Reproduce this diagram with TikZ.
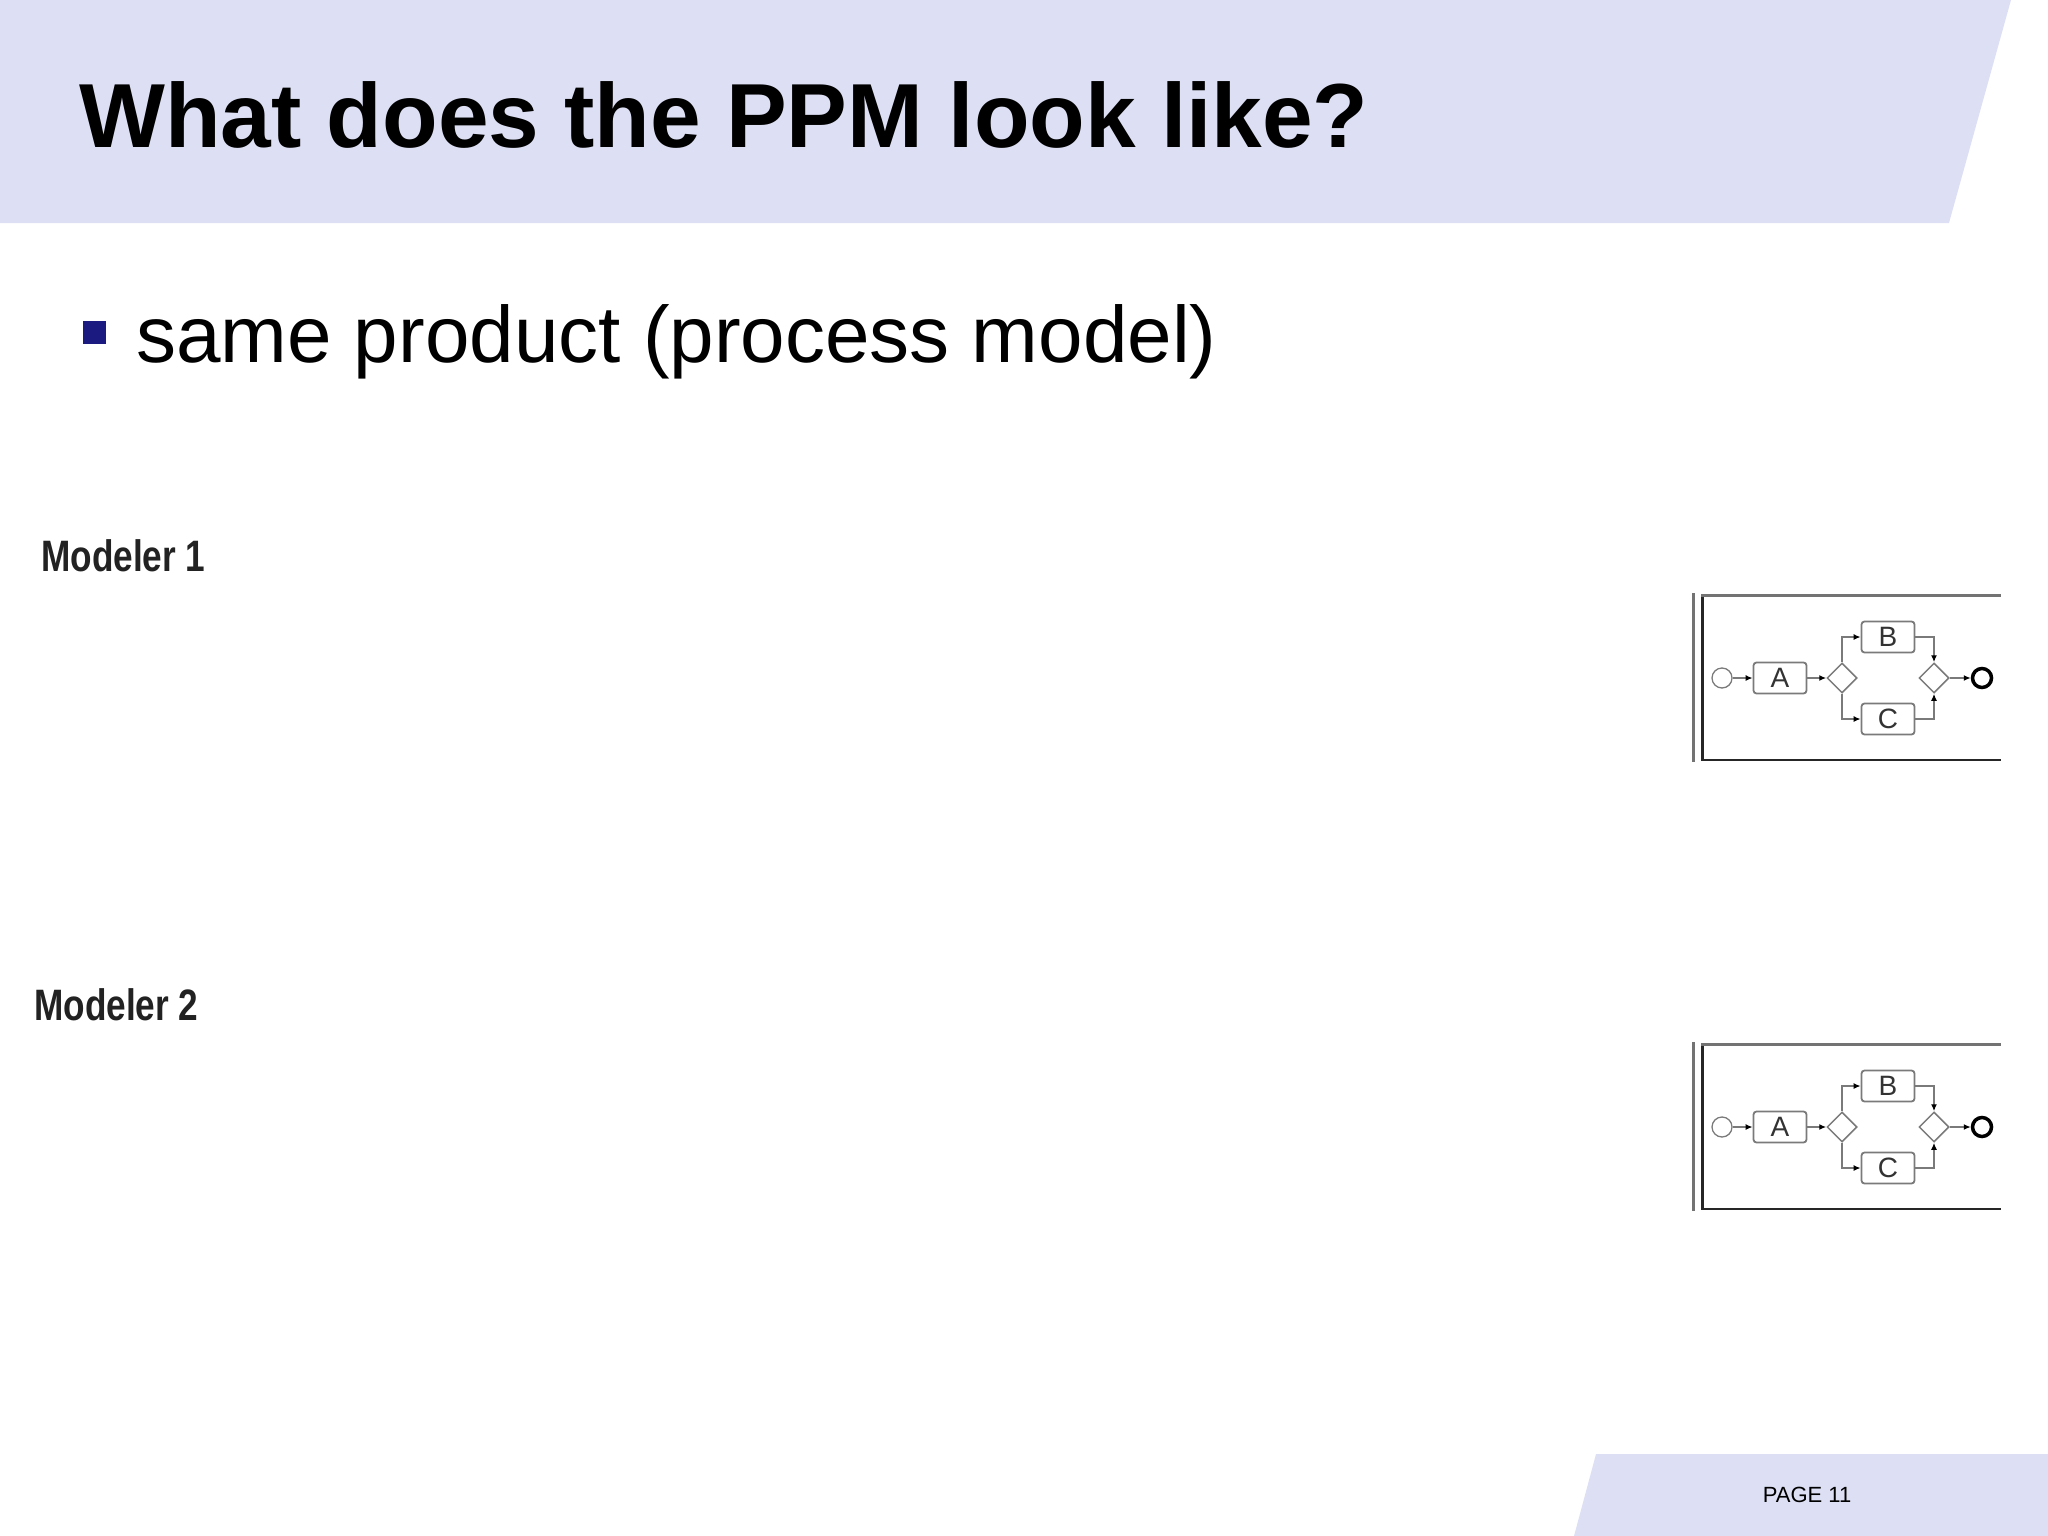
\documentclass[tikz,border=0pt]{standalone}
\usepackage{fontspec}
\usepackage{graphicx}
\setmainfont{Liberation Sans}
\usetikzlibrary{arrows.meta,shapes.geometric}
\definecolor{band}{HTML}{DDE0F4}
\definecolor{bulletc}{HTML}{1A1A80}
\definecolor{flowc}{HTML}{7A7A7A}
\definecolor{labc}{HTML}{222222}
\begin{document}
\begin{tikzpicture}[x=1pt,y=-1pt,
  task/.style={draw=flowc,line width=1.8pt,rounded corners=3pt,minimum width=53pt,minimum height=31pt,inner sep=0pt,font=\fontsize{28}{28}\selectfont,text=black!80},
  gate/.style={draw=flowc,line width=1.5pt,diamond,minimum width=30pt,minimum height=30pt,inner sep=0pt},
  startev/.style={draw=flowc,line width=1.3pt,circle,minimum size=20pt,inner sep=0pt},
  endev/.style={draw=black,line width=3.5pt,circle,minimum size=19pt,inner sep=0pt},
  flow/.style={draw=flowc,line width=1.5pt,-{Latex[length=7pt,width=6pt,black]}},
  modlabel/.style={anchor=base west,inner sep=0pt,text=labc,font=\bfseries\fontsize{44}{44}\selectfont},
  frameout/.style={draw=black!55,line width=3pt},
  framein/.style={draw=black!85,line width=3pt}]
\useasboundingbox (0,0) rectangle (2048,1536);
% header band
\fill[band] (0,0) -- (2011,0) -- (1949,223) -- (0,223) -- cycle;
\node[anchor=base west,inner sep=0pt,font=\bfseries\fontsize{91}{100}\selectfont] (title) at (79,148) {What does the PPM look like?};
% bullet
\fill[bulletc] (83,321) rectangle (106,344);
\node[anchor=base west,inner sep=0pt,font=\fontsize{80}{90}\selectfont] (bul) at (136,362) {same product (process model)};
% modeler labels
\node[modlabel] (m1) at (41,571) {\scalebox{0.8}[1]{Modeler 1}};
\node[modlabel] (m2) at (34,1020) {\scalebox{0.8}[1]{Modeler 2}};
% diagrams
\foreach \dy/\n in {0/1,449/2}{
  \draw[frameout] (1693,{593+\dy}) -- (1693,{762+\dy});
  \draw[framein] (1702,{595+\dy}) -- (1702,{760+\dy});
  \draw[draw=black!55,line width=3pt] (1701,{595+\dy}) -- (2001,{595+\dy});
  \draw[draw=black!85,line width=2.5pt] (1701,{760+\dy}) -- (2001,{760+\dy});
  \node[startev] (s\n) at (1722,{678+\dy}) {};
  \node[task] (a\n) at (1780,{678+\dy}) {A};
  \node[gate] (g\n) at (1842,{678+\dy}) {};
  \node[task] (b\n) at (1888,{637+\dy}) {B};
  \node[task] (c\n) at (1888,{719+\dy}) {C};
  \node[gate] (h\n) at (1934,{678+\dy}) {};
  \node[endev] (e\n) at (1982,{678+\dy}) {};
  \draw[flow] (s\n) -- (a\n);
  \draw[flow] (a\n) -- (g\n);
  \draw[flow] (g\n.north) |- (b\n.west);
  \draw[flow] (g\n.south) |- (c\n.west);
  \draw[flow] (b\n.east) -| (h\n.north);
  \draw[flow] (c\n.east) -| (h\n.south);
  \draw[flow] (h\n) -- (e\n);
}
% footer band
\fill[band] (1596,1454) -- (2048,1454) -- (2048,1536) -- (1574,1536) -- cycle;
\node[inner sep=0pt,font=\fontsize{22}{22}\selectfont] (page) at (1807,1495) {PAGE 11};
\end{tikzpicture}
\end{document}
